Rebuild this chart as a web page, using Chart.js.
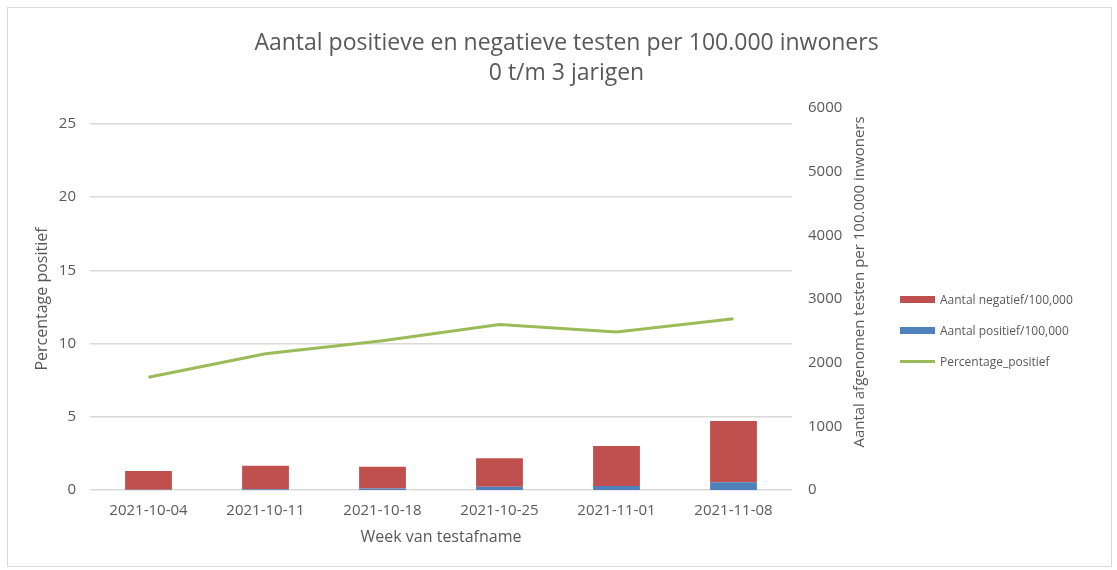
<!DOCTYPE html>
<html>
<head>
<meta charset="utf-8">
<script src="https://cdn.jsdelivr.net/npm/chart.js@4"></script>
<style>
    html, body { margin: 0; padding: 0; background: #fff; }
    #frame {
        position: absolute;
        left: 7px;
        top: 7px;
        width: 1105px;
        height: 560px;
        border: 1px solid #d9d9d9;
        box-sizing: border-box;
    }
    #legend {
        position: absolute;
        left: 900px;
        top: 284px;
        font-family: 'Open Sans', sans-serif;
        font-size: 12px;
        color: #595959;
    }
    .legend-item {
        display: flex;
        align-items: center;
        height: 31px;
        white-space: nowrap;
    }
    .legend-mark {
        width: 35px;
        margin-right: 5px;
    }
</style>
</head>
<body>
<div id="frame"><canvas id="chart" width="1103" height="558"></canvas></div>
<div id="legend"></div>
<script>
const weeks = ['2021-10-04', '2021-10-11', '2021-10-18', '2021-10-25', '2021-11-01', '2021-11-08'];
const positief = [5, 10, 25, 50, 63, 120];
const negatief = [295, 370, 340, 450, 627, 962];
const percentagePositief = [7.7, 9.3, 10.2, 11.3, 10.8, 11.7];
const leftTicks = [0, 5, 10, 15, 20, 25];
const rightTicks = [0, 1000, 2000, 3000, 4000, 5000, 6000];

const colors = {
    red: '#C0504D',
    blue: '#4F81BD',
    green: '#9BBB59',
    grid: '#D9D9D9',
    text: '#595959'
};

const FONT = 'Open Sans';
Chart.defaults.font.family = FONT;
Chart.defaults.color = colors.text;

// legend order in the picture: negatief, positief, percentage
const legendOrder = ['Aantal negatief/100,000', 'Aantal positief/100,000', 'Percentage_positief'];
const rightTitle = 'Aantal afgenomen testen per 100.000 inwoners';

// right axis title reads bottom-to-top in the original, chart.js turns it the other way
const rightTitlePlugin = {
    id: 'rightTitle',
    afterDraw(chart) {
        const c = chart.ctx;
        c.save();
        c.translate(852, 274);
        c.rotate(-Math.PI / 2);
        c.font = `15px '${FONT}'`;
        c.fillStyle = colors.text;
        c.textAlign = 'center';
        c.textBaseline = 'middle';
        c.fillText(rightTitle, 0, 0);
        c.restore();
    }
};

const ctx = document.getElementById('chart').getContext('2d');

const chart = new Chart(ctx, {
    type: 'bar',
    data: {
        labels: weeks,
        datasets: [
            {
                label: 'Aantal positief/100,000',
                data: positief,
                backgroundColor: colors.blue,
                yAxisID: 'yRight',
                stack: 'tests',
                order: 2
            },
            {
                label: 'Aantal negatief/100,000',
                data: negatief,
                backgroundColor: colors.red,
                yAxisID: 'yRight',
                stack: 'tests',
                order: 2
            },
            {
                type: 'line',
                label: 'Percentage_positief',
                data: percentagePositief,
                borderColor: colors.green,
                backgroundColor: colors.green,
                borderWidth: 3,
                pointRadius: 0,
                tension: 0,
                yAxisID: 'y',
                order: 1
            }
        ]
    },
    options: {
        responsive: false,
        animation: false,
        barPercentage: 0.4,
        categoryPercentage: 1,
        layout: {
            padding: { left: 14, right: 0, top: 0, bottom: 16 }
        },
        plugins: {
            title: {
                display: true,
                text: ['Aantal positieve en negatieve testen per 100.000 inwoners', '0 t/m 3 jarigen'],
                color: colors.text,
                font: { family: FONT, size: 23, weight: 'normal', lineHeight: 30 / 23 },
                padding: { top: 20, bottom: 20 }
            },
            legend: { display: false },
            tooltip: { enabled: false }
        },
        scales: {
            x: {
                stacked: true,
                grid: { display: false, drawTicks: false },
                border: { display: false },
                ticks: { padding: 12, font: { size: 15 }, color: colors.text },
                title: {
                    display: true,
                    text: 'Week van testafname',
                    font: { size: 16 },
                    color: colors.text,
                    padding: { top: 0, bottom: 3 }
                },
                afterFit: (scale) => { scale.height = 60; }
            },
            y: {
                position: 'left',
                min: 0,
                // 6000 on the right axis sits a little above the 25 line
                max: 25 * 382 / 366,
                grid: { color: colors.grid, lineWidth: 1.5, drawTicks: false },
                border: { display: false },
                afterBuildTicks: (scale) => {
                    scale.ticks = leftTicks.map(v => ({ value: v }));
                },
                ticks: { padding: 14, font: { size: 15 }, color: colors.text },
                title: {
                    display: true,
                    text: 'Percentage positief',
                    font: { size: 16 },
                    color: colors.text,
                    padding: { top: 11, bottom: 0 }
                },
                afterFit: (scale) => { scale.width = 68; }
            },
            yRight: {
                position: 'right',
                stacked: true,
                min: 0,
                max: 6000,
                grid: { display: false, drawTicks: false },
                border: { display: false },
                afterBuildTicks: (scale) => {
                    scale.ticks = rightTicks.map(v => ({ value: v }));
                },
                ticks: {
                    padding: 16,
                    font: { size: 15 },
                    color: colors.text,
                    callback: (v) => String(v)
                },
                // also keeps the room where the legend sits
                afterFit: (scale) => { scale.width = 319; }
            }
        }
    },
    plugins: [rightTitlePlugin]
});

// html legend built from the chart's datasets
const legendEl = document.getElementById('legend');
const items = chart.data.datasets
    .slice()
    .sort((a, b) => legendOrder.indexOf(a.label) - legendOrder.indexOf(b.label));
items.forEach(ds => {
    const row = document.createElement('div');
    row.className = 'legend-item';
    const mark = document.createElement('span');
    mark.className = 'legend-mark';
    if (ds.type === 'line') {
        mark.style.height = '3px';
        mark.style.background = ds.borderColor;
    } else {
        mark.style.height = '7px';
        mark.style.background = ds.backgroundColor;
    }
    const label = document.createElement('span');
    label.textContent = ds.label;
    row.appendChild(mark);
    row.appendChild(label);
    legendEl.appendChild(row);
});
</script>
</body>
</html>
